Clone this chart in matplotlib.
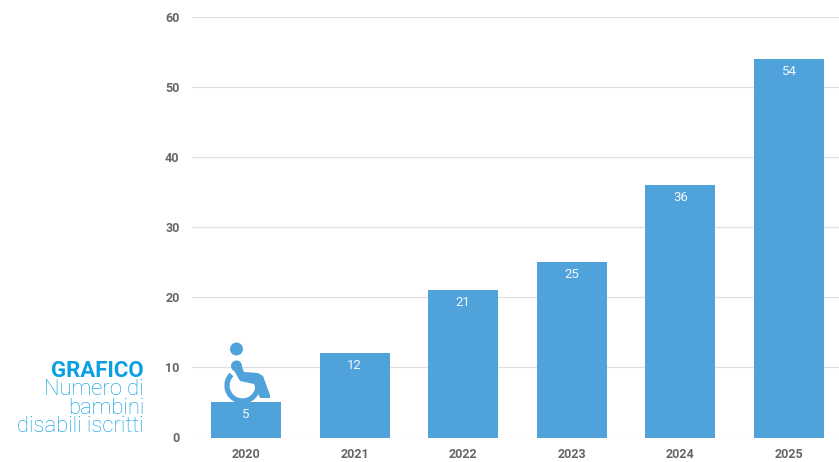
import matplotlib
matplotlib.use("Agg")
import matplotlib.pyplot as plt
from matplotlib.patches import Arc, Circle, Polygon

plt.rcParams['font.family'] = ['Roboto', 'DejaVu Sans']

years = ["2020", "2021", "2022", "2023", "2024", "2025"]
values = [5, 12, 21, 25, 36, 54]
yticks = [0, 10, 20, 30, 40, 50, 60]

BAR = "#4fa2da"
TITLE = "#0b9fe3"
SUB = "#009ce6"
W, H = 839, 462

fig = plt.figure(figsize=(W / 100, H / 100), dpi=100)

# plot area in pixels
left, right, top, bottom = 192, 839, 17, 437.5
ax = fig.add_axes([left / W, 1 - bottom / H, (right - left) / W, (bottom - top) / H])
x = list(range(len(years)))
ax.bar(x, values, width=0.645, color=BAR, zorder=3)
ax.set_xlim(-0.497, 5.46)
ax.set_ylim(0, 60)
ax.set_xticks(x)
ax.set_xticklabels(years, fontsize=9, fontweight="bold", color="#666666")
ax.set_yticks(yticks)
ax.set_yticklabels(yticks, fontsize=9, fontweight="bold", color="#666666")
ax.tick_params(length=0, axis="x", pad=7.5)
ax.tick_params(length=0, axis="y", pad=9)
ax.grid(axis="y", color="#e0e0e0", lw=0.9, zorder=0)
for s in ax.spines.values():
    s.set_visible(False)
ax.set_axisbelow(True)

for i, v in zip(x, values):
    ax.annotate(str(v), (i, v), xytext=(0, -9), textcoords="offset points",
                ha="center", va="center", color="#f2f7fb", fontsize=9.5, zorder=4)

# overlay in pixel coordinates for the text block and the icon
ov = fig.add_axes([0, 0, 1, 1], facecolor="none")
ov.set_xlim(0, W)
ov.set_ylim(H, 0)
ov.axis("off")

ov.text(144, 371, "GRAFICO", ha="right", va="center", fontsize=16, fontweight="bold", color=TITLE)
for y, line in zip([389.5, 408.5, 427], ["Numero di", "bambini", "disabili iscritti"]):
    ov.text(144, y, line, ha="right", va="center", fontsize=15.8, fontweight="light", color=SUB)

# wheelchair icon
ov.add_patch(Circle((236.5, 349), 6.5, color=BAR, lw=0))
ov.add_patch(Circle((236.5, 366), 5.5, color=BAR, lw=0))
ov.add_patch(Polygon([(231.5, 366), (241, 364), (244, 372), (258, 373), (263, 376),
                      (270, 395), (270, 398), (260, 398), (254, 384), (240, 381)],
                     closed=True, color=BAR, lw=0))
ov.add_patch(Arc((242.5, 385.5), 31, 31, theta1=-5, theta2=225, color=BAR, lw=3.8))

fig.savefig("out.png", dpi=100)
